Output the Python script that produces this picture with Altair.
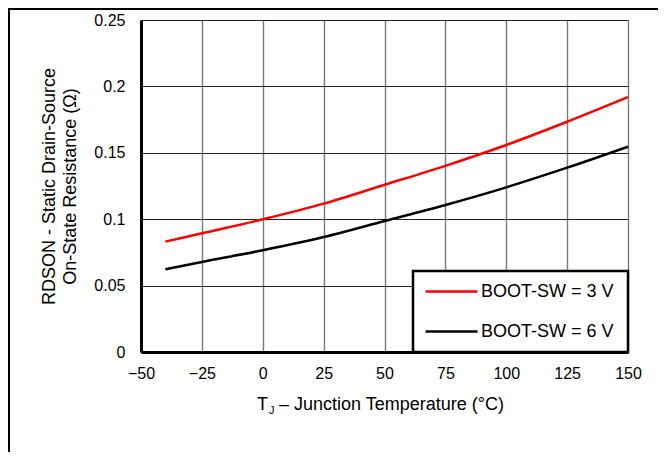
import altair as alt
import pandas as pd

temps = [-40, -25, 0, 25, 50, 75, 100, 125, 150]
r_3v = [0.0831, 0.0894, 0.0999, 0.1117, 0.1259, 0.1402, 0.1559, 0.1734, 0.1920]
r_6v = [0.0623, 0.0678, 0.0766, 0.0866, 0.0986, 0.1107, 0.1240, 0.1388, 0.1546]
series = ["BOOT-SW = 3 V", "BOOT-SW = 6 V"]
colors = ["#ff0000", "#000000"]
x_ticks = [-50, -25, 0, 25, 50, 75, 100, 125, 150]
y_ticks = [0, 0.05, 0.1, 0.15, 0.2, 0.25]

rows = []
for t, a, b in zip(temps, r_3v, r_6v):
    rows.append({"T": t, "R": a, "s": series[0]})
    rows.append({"T": t, "R": b, "s": series[1]})
df = pd.DataFrame(rows)

FONT = "Liberation Sans"
W, H = 487, 332

x_enc = alt.X("T:Q", scale=alt.Scale(domain=[-50, 150], nice=False, zero=False),
              axis=alt.Axis(values=x_ticks, title=None, grid=True, gridColor="#7a7a7a",
                            gridWidth=1.4, ticks=False, tickSize=0, labelPadding=13,
                            labelFlush=False, labelFontSize=16, labelFont=FONT,
                            labelColor="black", domain=True, domainColor="black",
                            domainWidth=3))
y_enc = alt.Y("R:Q", scale=alt.Scale(domain=[0, 0.25], nice=False),
              axis=alt.Axis(values=y_ticks, format=".2~f", grid=True, gridColor="#222222",
                            gridWidth=1, ticks=False, tickSize=0, labelPadding=16,
                            labelFlush=False, labelFontSize=16, labelFont=FONT,
                            labelColor="black", domain=True, domainColor="black",
                            domainWidth=3,
                            title=["RDSON - Static Drain-Source", "On-State Resistance (\u03a9)"],
                            titleFont=FONT, titleFontSize=18, titleFontWeight="normal",
                            titleColor="black", titleAngle=270, titleX=-83, titleY=166,
                            titleAlign="center", titleBaseline="bottom", titleLineHeight=21))

lines = alt.Chart(df).mark_line(strokeWidth=2.5, interpolate="monotone").encode(
    x=x_enc, y=y_enc,
    color=alt.Color("s:N", scale=alt.Scale(domain=series, range=colors),
                    legend=alt.Legend(title=None, orient="none", legendX=272, legendY=249,
                                      symbolType="M-1,0H4.2", symbolSize=400,
                                      symbolStrokeWidth=2.5, labelFontSize=18,
                                      labelFont=FONT, labelColor="black", labelOffset=34,
                                      rowPadding=19, padding=11)),
)

box = alt.Chart(pd.DataFrame({"a": [0]})).mark_rect(fill="white", stroke="black", strokeWidth=2.5).encode(
    x=alt.value(272), x2=alt.value(487), y=alt.value(251), y2=alt.value(332))

frame_left = alt.Chart(pd.DataFrame({"a": [0]})).mark_rule(color="black", strokeWidth=2).encode(
    x=alt.value(-132), y=alt.value(-12), y2=alt.value(434))
frame_top = alt.Chart(pd.DataFrame({"a": [0]})).mark_rule(color="black", strokeWidth=2).encode(
    x=alt.value(-133), x2=alt.value(520), y=alt.value(-11))

t_main = alt.Chart(pd.DataFrame({"a": ["T"]})).mark_text(
    font=FONT, fontSize=18, color="black", align="left", baseline="alphabetic").encode(
    text="a:N", x=alt.value(116), y=alt.value(390))
t_sub = alt.Chart(pd.DataFrame({"a": ["J"]})).mark_text(
    font=FONT, fontSize=11, color="black", align="left", baseline="alphabetic").encode(
    text="a:N", x=alt.value(128), y=alt.value(394))
t_rest = alt.Chart(pd.DataFrame({"a": ["\u2013 Junction Temperature (\u00b0C)"]})).mark_text(
    font=FONT, fontSize=18, color="black", align="left", baseline="alphabetic").encode(
    text="a:N", x=alt.value(138), y=alt.value(390))

chart = alt.layer(box, lines, frame_left, frame_top, t_main, t_sub, t_rest).properties(
    width=W, height=H,
    autosize=alt.AutoSizeParams(type="none"),
    padding={"left": 133, "top": 12, "right": 30, "bottom": 100},
).configure_view(stroke="black", strokeWidth=2).configure(background="white")

chart.save("out.html", embed_options={"renderer": "svg", "actions": False})
